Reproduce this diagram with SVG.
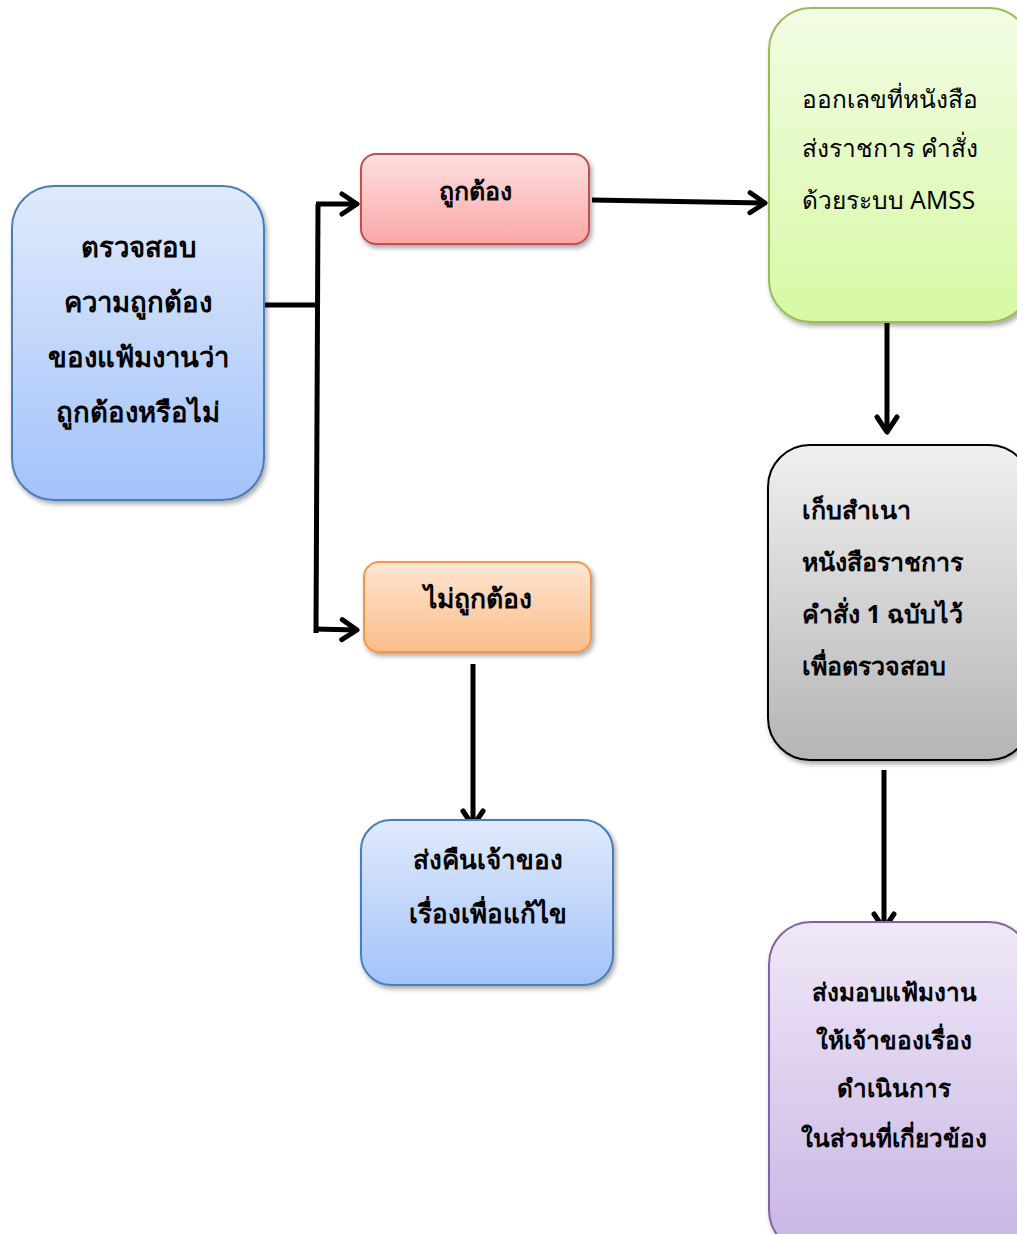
<svg xmlns="http://www.w3.org/2000/svg" width="1017" height="1234" viewBox="0 0 1017 1234">
<defs>
<linearGradient id="gBlue" x1="0" y1="0" x2="0" y2="1"><stop offset="0" stop-color="#e0eafc"/><stop offset="1" stop-color="#a3c3fa"/></linearGradient>
<linearGradient id="gRed" x1="0" y1="0" x2="0" y2="1"><stop offset="0" stop-color="#fde0e0"/><stop offset="1" stop-color="#fba6a6"/></linearGradient>
<linearGradient id="gGreen" x1="0" y1="0" x2="0" y2="1"><stop offset="0" stop-color="#f2fce4"/><stop offset="1" stop-color="#d7f9a4"/></linearGradient>
<linearGradient id="gGray" x1="0" y1="0" x2="0" y2="1"><stop offset="0" stop-color="#f0f0f0"/><stop offset="1" stop-color="#b5b5b5"/></linearGradient>
<linearGradient id="gOrange" x1="0" y1="0" x2="0" y2="1"><stop offset="0" stop-color="#fee6d2"/><stop offset="1" stop-color="#fbbd8a"/></linearGradient>
<linearGradient id="gPurple" x1="0" y1="0" x2="0" y2="1"><stop offset="0" stop-color="#efe8f7"/><stop offset="1" stop-color="#c8b5e4"/></linearGradient>
<filter id="sh" x="-10%" y="-10%" width="130%" height="130%"><feDropShadow dx="2" dy="3" stdDeviation="2.5" flood-color="#000" flood-opacity="0.35"/></filter>
<marker id="chev" markerWidth="24" markerHeight="24" refX="0" refY="0" orient="auto" markerUnits="userSpaceOnUse" viewBox="-20 -12 24 24" overflow="visible">
<path d="M-15,-10 L0,0 L-15,10" fill="none" stroke="#000" stroke-width="5" stroke-linecap="round" stroke-linejoin="round"/>
</marker>
</defs>
<style>
.t{font-family:Tahoma,"Noto Sans","DejaVu Sans",sans-serif;font-size:25px;fill:#000}
.b{font-weight:bold}
.c{text-anchor:middle}
.ln{fill:none;stroke:#000;stroke-width:5}
.la{fill:none;stroke:#000;stroke-width:5;marker-end:url(#chev)}
</style>

<g id="connectors">
<line class="ln" x1="264" y1="305" x2="318" y2="305"/>
<line class="ln" x1="318" y1="204" x2="316" y2="633"/>
<line class="la" x1="316" y1="204" x2="357" y2="204"/>
<line class="la" x1="314" y1="629" x2="357" y2="630"/>
<line class="la" x1="592" y1="200" x2="765" y2="203"/>
<line class="la" x1="887" y1="322" x2="887" y2="432"/>
<line class="la" x1="473" y1="664" x2="473" y2="826"/>
<line class="la" x1="884" y1="770" x2="884" y2="929"/>
</g>

<g id="n-check">
<rect x="12" y="186" width="252" height="314" rx="42" fill="url(#gBlue)" stroke="#4a7ebb" stroke-width="2" filter="url(#sh)"/>
<text class="t b c" x="138" y="257" style="font-size:27.5px">ตรวจสอบ</text>
<text class="t b c" x="138" y="312" style="font-size:27.5px">ความถูกต้อง</text>
<text class="t b c" x="138" y="367" style="font-size:27.5px">ของแฟ้มงานว่า</text>
<text class="t b c" x="138" y="422" style="font-size:27.5px">ถูกต้องหรือไม่</text>
</g>

<g id="n-correct">
<rect x="361" y="154" width="228" height="90" rx="15" fill="url(#gRed)" stroke="#c0504d" stroke-width="2" filter="url(#sh)"/>
<text class="t b c" x="475" y="200">ถูกต้อง</text>
</g>

<g id="n-amss">
<rect x="769" y="8" width="262" height="314" rx="42" fill="url(#gGreen)" stroke="#9bbb59" stroke-width="2" filter="url(#sh)"/>
<text class="t" x="802" y="108" style="font-size:24.5px">ออกเลขที่หนังสือ</text>
<text class="t" x="802" y="157" style="font-size:24.5px">ส่งราชการ คำสั่ง</text>
<text class="t" x="802" y="209" style="font-size:24.5px">ด้วยระบบ AMSS</text>
</g>

<g id="n-copy">
<rect x="768" y="445" width="263" height="315" rx="42" fill="url(#gGray)" stroke="#000" stroke-width="2" filter="url(#sh)"/>
<text class="t b" x="802" y="519">เก็บสำเนา</text>
<text class="t b" x="802" y="571">หนังสือราชการ</text>
<text class="t b" x="802" y="623">คำสั่ง 1 ฉบับไว้</text>
<text class="t b" x="802" y="675">เพื่อตรวจสอบ</text>
</g>

<g id="n-incorrect">
<rect x="364" y="562" width="227" height="90" rx="15" fill="url(#gOrange)" stroke="#f79646" stroke-width="2" filter="url(#sh)"/>
<text class="t b c" x="478" y="608" style="font-size:26.5px">ไม่ถูกต้อง</text>
</g>

<g id="n-return">
<rect x="361" y="820" width="252" height="165" rx="30" fill="url(#gBlue)" stroke="#4a7ebb" stroke-width="2" filter="url(#sh)"/>
<text class="t b c" x="488" y="869" style="font-size:26px">ส่งคืนเจ้าของ</text>
<text class="t b c" x="488" y="923" style="font-size:26px">เรื่องเพื่อแก้ไข</text>
</g>

<g id="n-deliver">
<rect x="769" y="922" width="262" height="330" rx="42" fill="url(#gPurple)" stroke="#8064a2" stroke-width="2" filter="url(#sh)"/>
<text class="t b c" x="894" y="1001" style="font-size:24.3px">ส่งมอบแฟ้มงาน</text>
<text class="t b c" x="894" y="1049" style="font-size:24.3px">ให้เจ้าของเรื่อง</text>
<text class="t b c" x="894" y="1097" style="font-size:24.3px">ดำเนินการ</text>
<text class="t b c" x="894" y="1147" style="font-size:24.3px">ในส่วนที่เกี่ยวข้อง</text>
</g>
</svg>
